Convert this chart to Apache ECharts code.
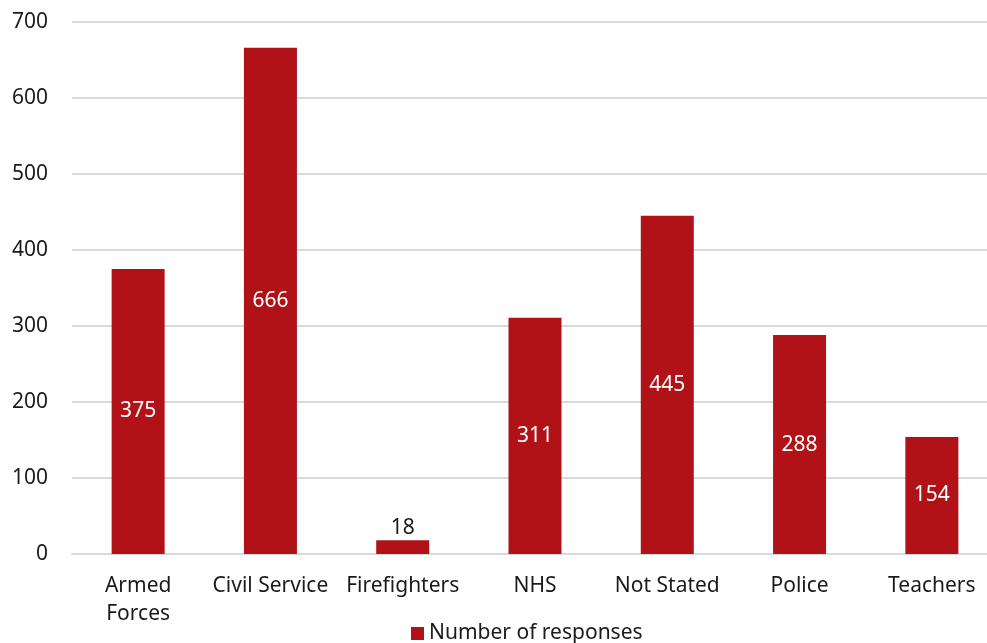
<!DOCTYPE html>
<html><head><meta charset="utf-8">
<script src="https://cdn.jsdelivr.net/npm/echarts@6/dist/echarts.min.js"></script>
<style>html,body{margin:0;padding:0;background:#fff;}#c{width:987px;height:643px;}</style>
</head><body><div id="c"></div>
<script>
const categories = ['Armed\nForces', 'Civil Service', 'Firefighters', 'NHS', 'Not Stated', 'Police', 'Teachers'];
const responses = [375, 666, 18, 311, 445, 288, 154];
const yTicks = [0, 100, 200, 300, 400, 500, 600, 700];
const seriesName = 'Number of responses';

const chart = echarts.init(document.getElementById('c'), null, {renderer: 'canvas'});
const font = "'Noto Sans', 'Open Sans', sans-serif";
const fs = 21;
chart.setOption({
  animation: false,
  textStyle: {fontFamily: font},
  grid: {left: 72, width: 926, top: 22, bottom: 89, containLabel: false, outerBoundsMode: 'none'},
  legend: {
    data: [seriesName], left: 411, top: 623, itemWidth: 13, itemHeight: 13, icon: 'rect', itemGap: 6, padding: 0,
    textStyle: {fontSize: fs, color: '#1a1a1a', fontFamily: font}
  },
  xAxis: {
    type: 'category', data: categories,
    axisLine: {show: true, lineStyle: {color: '#d9d9d9', width: 2}},
    axisTick: {show: false},
    axisLabel: {fontSize: fs, color: '#1a1a1a', margin: 18, lineHeight: 28, interval: 0, fontFamily: font}
  },
  yAxis: {
    type: 'value', min: yTicks[0], max: yTicks[yTicks.length - 1], interval: 100,
    axisLine: {show: false}, axisTick: {show: false},
    splitLine: {lineStyle: {color: '#d9d9d9', width: 2}},
    axisLabel: {fontSize: fs, color: '#1a1a1a', margin: 24, fontFamily: font}
  },
  series: [{
    name: seriesName, type: 'bar', barWidth: 53,
    itemStyle: {color: '#B01218'},
    data: responses.map(v => ({
      value: v,
      label: v < 50
        ? {show: true, position: 'top', color: '#1a1a1a', fontSize: fs, distance: 2, fontFamily: font}
        : {show: true, position: 'inside', color: '#ffffff', fontSize: fs, fontFamily: font}
    }))
  }]
});
</script></body></html>
